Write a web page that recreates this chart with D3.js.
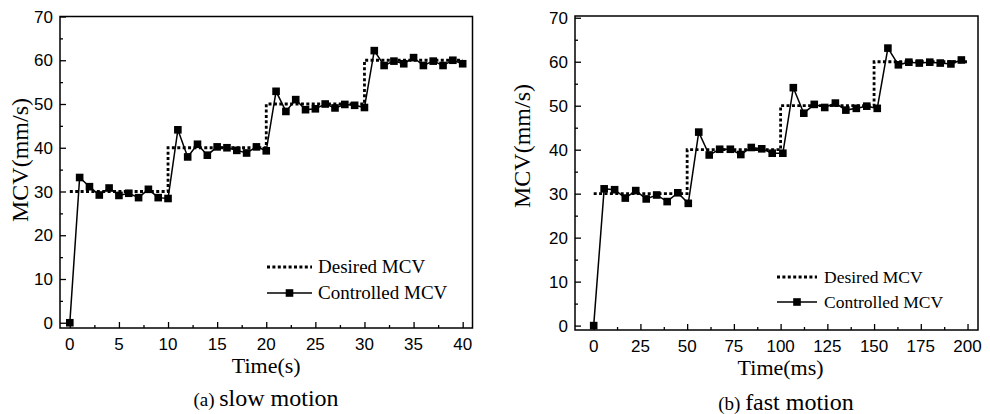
<!DOCTYPE html>
<html>
<head>
  <meta charset="utf-8">
  <title>MCV tracking</title>
  <script src="https://d3js.org/d3.v7.min.js"></script>
  <style>
    body { margin: 0; background: #fff; }
    svg { display: block; }
    .tick-label { font-family: "Liberation Sans", Arial, sans-serif; font-size: 17px; fill: #000; }
    .serif { font-family: "Liberation Serif", "Times New Roman", serif; fill: #000; }
  </style>
</head>
<body>
  <div id="chart"></div>
  <script>
    // slow motion: one sample each second
    var slowTime = [0, 1, 2, 3, 4, 5, 6, 7, 8, 9, 10, 11, 12, 13, 14, 15, 16, 17, 18, 19, 20,
                    21, 22, 23, 24, 25, 26, 27, 28, 29, 30, 31, 32, 33, 34, 35, 36, 37, 38, 39, 40];
    var slowMCV = [0, 33.2, 31.1, 29.2, 30.8, 29.1, 29.6, 28.6, 30.5, 28.6, 28.4,
                   44.1, 37.9, 40.8, 38.3, 40.2, 40.0, 39.4, 38.8, 40.2, 39.3,
                   52.9, 48.3, 51.0, 48.7, 48.9, 50.0, 49.1, 49.9, 49.7, 49.2,
                   62.2, 58.8, 59.8, 59.2, 60.6, 58.8, 59.8, 58.8, 60.0, 59.2];
    var slowDesiredTime = [0, 10, 10, 20, 20, 30, 30, 40];
    var slowDesiredMCV = [30, 30, 40, 40, 50, 50, 60, 60];

    // fast motion: samples in ms
    var fastTime = [0, 5.6, 11.2, 16.9, 22.5, 28.1, 33.7, 39.3, 45.0, 50.6, 56.2, 61.8,
                    67.4, 73.1, 78.7, 84.3, 89.9, 95.5, 101.2, 106.8, 112.4, 118.0, 123.6, 129.3,
                    134.9, 140.5, 146.1, 151.7, 157.4, 163.0, 168.6, 174.2, 179.8, 185.4, 191.1, 196.7];
    var fastMCV = [0, 31.1, 30.9, 29.0, 30.7, 28.8, 29.7, 28.2, 30.2, 27.8,
                   44.0, 38.8, 40.1, 40.1, 38.9, 40.5, 40.2, 39.2, 39.2,
                   54.1, 48.3, 50.3, 49.6, 50.6, 49.0, 49.4, 49.9, 49.4,
                   63.1, 59.3, 59.9, 59.7, 59.9, 59.7, 59.5, 60.4];
    var fastDesiredTime = [0, 50, 50, 100, 100, 150, 150, 200];
    var fastDesiredMCV = [30, 30, 40, 40, 50, 50, 60, 60];

    var yTicks = [0, 10, 20, 30, 40, 50, 60, 70];
    var slowXTicks = [0, 5, 10, 15, 20, 25, 30, 35, 40];
    var fastXTicks = [0, 25, 50, 75, 100, 125, 150, 175, 200];
    var legendLabels = ["Desired MCV", "Controlled MCV"];

    var svg = d3.select("#chart").append("svg")
      .attr("width", 990)
      .attr("height", 414);

    var MK = 7.6; // marker size

    function panel(opt) {
      var x = d3.scaleLinear().domain(opt.xDomain).range([opt.left, opt.right]);
      var y = d3.scaleLinear().domain(opt.yDomain).range([opt.bottom, opt.top]);
      var g = svg.append("g");

      // frame
      g.append("rect")
        .attr("x", opt.left).attr("y", opt.top)
        .attr("width", opt.right - opt.left).attr("height", opt.bottom - opt.top)
        .attr("fill", "none").attr("stroke", "#000").attr("stroke-width", 1.5);

      // bottom axis, ticks pointing inward
      var xAxis = d3.axisTop(x).tickValues(opt.xTicks).tickSize(6).tickFormat("");
      g.append("g").attr("transform", "translate(0," + opt.bottom + ")").call(xAxis)
        .call(function(s) { s.select(".domain").remove(); });
      var xMinor = d3.axisTop(x).tickValues(opt.xTicks.slice(1).map(function(d, i) {
          return (d + opt.xTicks[i]) / 2; })).tickSize(3).tickFormat("");
      g.append("g").attr("transform", "translate(0," + opt.bottom + ")").call(xMinor)
        .call(function(s) { s.select(".domain").remove(); });

      // left axis
      var yAxis = d3.axisRight(y).tickValues(yTicks).tickSize(6).tickFormat("");
      g.append("g").attr("transform", "translate(" + opt.left + ",0)").call(yAxis)
        .call(function(s) { s.select(".domain").remove(); });
      var yMinor = d3.axisRight(y).tickValues(yTicks.slice(1).map(function(d, i) {
          return (d + yTicks[i]) / 2; })).tickSize(3).tickFormat("");
      g.append("g").attr("transform", "translate(" + opt.left + ",0)").call(yMinor)
        .call(function(s) { s.select(".domain").remove(); });
      g.selectAll(".tick line").attr("stroke", "#000").attr("stroke-width", 1.3);

      // tick labels
      g.selectAll(".xlab").data(opt.xTicks).enter().append("text")
        .attr("class", "tick-label")
        .attr("x", function(d) { return x(d); })
        .attr("y", opt.bottom + 22)
        .attr("text-anchor", "middle")
        .text(function(d) { return d; });
      g.selectAll(".ylab").data(yTicks).enter().append("text")
        .attr("class", "tick-label")
        .attr("x", opt.left - 7)
        .attr("y", function(d) { return y(d); })
        .attr("dy", "0.36em")
        .attr("text-anchor", "end")
        .text(function(d) { return d; });

      // axis titles
      g.append("text").attr("class", "serif")
        .attr("x", (x(opt.xTicks[0]) + x(opt.xTicks[opt.xTicks.length - 1])) / 2)
        .attr("y", opt.bottom + 45)
        .attr("text-anchor", "middle")
        .style("font-size", "22px")
        .text(opt.xTitle);
      g.append("text").attr("class", "serif")
        .attr("transform", "translate(" + opt.yTitleX + "," + opt.yTitleY + ") rotate(-90)")
        .attr("text-anchor", "middle")
        .style("font-size", "24px")
        .text("MCV(mm/s)");

      // caption
      var cap = g.append("text").attr("class", "serif")
        .attr("x", opt.capX).attr("y", opt.capY)
        .attr("text-anchor", "middle");
      cap.append("tspan").style("font-size", "19px").text(opt.capTag + " ");
      cap.append("tspan").style("font-size", "24px").text(opt.capText);

      // desired (dotted)
      var line = d3.line().x(function(d) { return x(d[0]); }).y(function(d) { return y(d[1]); });
      g.append("path")
        .datum(d3.zip(opt.dTime, opt.dVal))
        .attr("d", line)
        .attr("fill", "none").attr("stroke", "#000")
        .attr("stroke-width", 2.8).attr("stroke-dasharray", "3,2.4");

      // controlled (solid + squares)
      var pts = d3.zip(opt.cTime, opt.cVal);
      g.append("path")
        .datum(pts)
        .attr("d", line)
        .attr("fill", "none").attr("stroke", "#000").attr("stroke-width", 1.5);
      g.selectAll(".pt").data(pts).enter().append("rect")
        .attr("x", function(d) { return x(d[0]) - MK / 2; })
        .attr("y", function(d) { return y(d[1]) - MK / 2; })
        .attr("width", MK).attr("height", MK)
        .attr("fill", "#000");

      // legend
      var L = opt.legend;
      g.append("line")
        .attr("x1", L.x1).attr("x2", L.x2).attr("y1", L.y).attr("y2", L.y)
        .attr("stroke", "#000").attr("stroke-width", 2.8).attr("stroke-dasharray", "3,2.4");
      g.append("line")
        .attr("x1", L.x1).attr("x2", L.x2).attr("y1", L.y + L.gap).attr("y2", L.y + L.gap)
        .attr("stroke", "#000").attr("stroke-width", 1.5);
      g.append("rect")
        .attr("x", (L.x1 + L.x2) / 2 - MK / 2).attr("y", L.y + L.gap - MK / 2)
        .attr("width", MK).attr("height", MK).attr("fill", "#000");
      g.selectAll(".leg").data(legendLabels).enter().append("text")
        .attr("class", "serif")
        .attr("x", L.tx)
        .attr("y", function(d, i) { return L.y + i * L.gap; })
        .attr("dy", "0.34em")
        .style("font-size", L.size + "px")
        .text(function(d) { return d; });
    }

    panel({
      left: 60, right: 472.5, top: 16.5, bottom: 328,
      xDomain: [-1, 41], yDomain: [-1.2, 70],
      xTicks: slowXTicks, xTitle: "Time(s)",
      yTitleX: 28, yTitleY: 160,
      capX: 266, capY: 406, capTag: "(a)", capText: "slow motion",
      dTime: slowDesiredTime, dVal: slowDesiredMCV,
      cTime: slowTime, cVal: slowMCV,
      legend: { x1: 267, x2: 312, y: 267, gap: 26, tx: 318, size: 19 }
    });

    panel({
      left: 575, right: 978, top: 16, bottom: 330,
      xDomain: [-10, 205.6], yDomain: [-1, 70.4],
      xTicks: fastXTicks, xTitle: "Time(ms)",
      yTitleX: 530, yTitleY: 146,
      capX: 786, capY: 410, capTag: "(b)", capText: "fast motion",
      dTime: fastDesiredTime, dVal: fastDesiredMCV,
      cTime: fastTime, cVal: fastMCV,
      legend: { x1: 777, x2: 817, y: 277, gap: 25, tx: 824, size: 17.5 }
    });
  </script>
</body>
</html>
